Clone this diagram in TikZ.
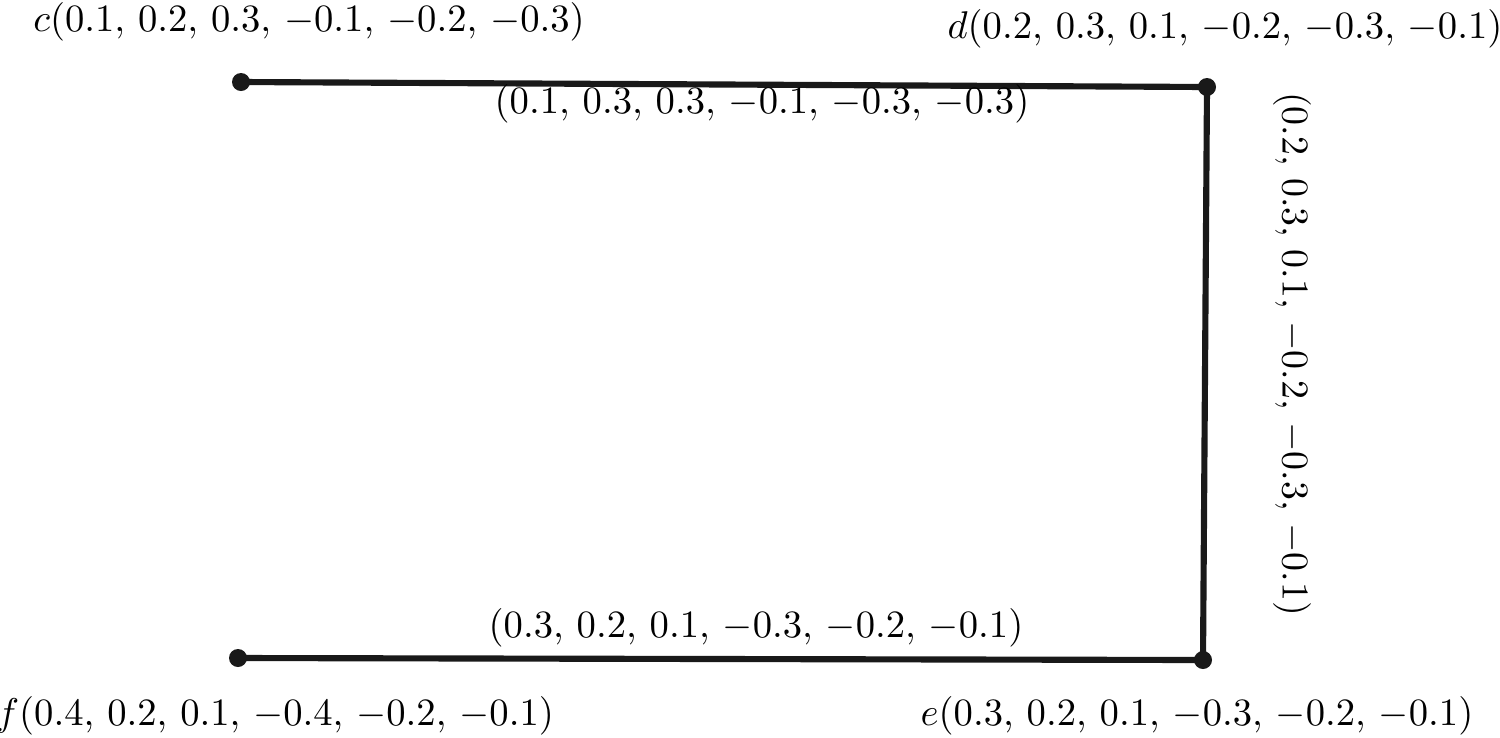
\documentclass[tikz,border=0pt]{standalone}
\begin{document}
\begin{tikzpicture}[x=0.2445pt,y=-0.2445pt,
  edge/.style={line width=1.5pt,draw=black!90},
  dot/.style={circle,fill=black!90,inner sep=0pt,minimum size=4.4pt},
  lab/.style={inner sep=0pt,anchor=center,scale=0.945,transform shape}]
\useasboundingbox (0,0) rectangle (1500,737);
\node[dot] (c) at (241,82) {};
\node[dot] (d) at (1207,87) {};
\node[dot] (e) at (1203,660) {};
\node[dot] (f) at (238,658) {};
\draw[edge] (c.center) -- (d.center) -- (e.center) -- (f.center);
\node[lab] (lc) at (309,22) {$c(0.1,\,0.2,\,0.3,\,-0.1,\,-0.2,\,-0.3)$};
\node[lab] (ld) at (1225,29) {$d(0.2,\,0.3,\,0.1,\,-0.2,\,-0.3,\,-0.1)$};
\node[lab] (le) at (1197,716) {$e(0.3,\,0.2,\,0.1,\,-0.3,\,-0.2,\,-0.1)$};
\node[lab] (lf) at (275,716) {$f(0.4,\,0.2,\,0.1,\,-0.4,\,-0.2,\,-0.1)$};
\node[lab] (lcd) at (762,104) {$(0.1,\,0.3,\,0.3,\,-0.1,\,-0.3,\,-0.3)$};
\node[lab,rotate=-90,scale=0.98] (lde) at (1292,354) {$(0.2,\,0.3,\,0.1,\,-0.2,\,-0.3,\,-0.1)$};
\node[lab] (lef) at (756,628) {$(0.3,\,0.2,\,0.1,\,-0.3,\,-0.2,\,-0.1)$};
\end{tikzpicture}
\end{document}
